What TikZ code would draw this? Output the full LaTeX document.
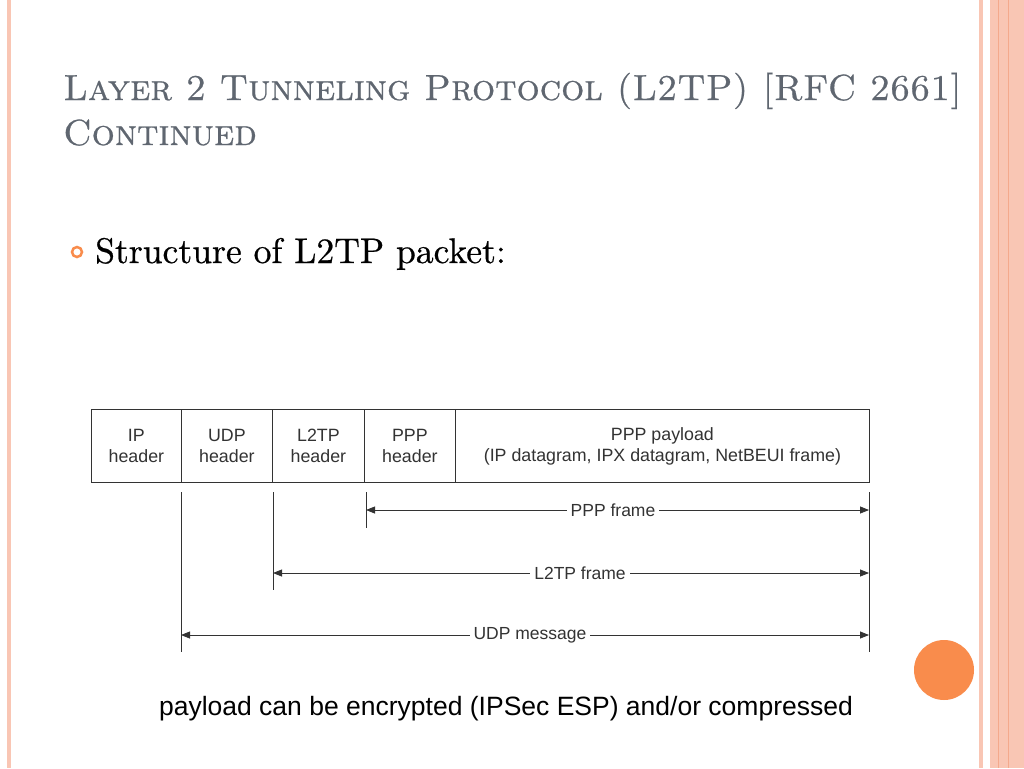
\documentclass[tikz,border=0pt]{standalone}
\usepackage{fontspec}
\newfontfamily\arial{Liberation Sans}
\newfontfamily\lmten{lmroman10-regular}[Extension=.otf, SmallCapsFont=lmromancaps10-regular, FakeBold=0.6]
\usetikzlibrary{arrows.meta}
\definecolor{pinkA}{HTML}{F9C6B4}
\definecolor{pinkB}{HTML}{F4A98C}
\definecolor{orangeC}{HTML}{F98C4C}
\definecolor{titlegray}{HTML}{5F6670}
\tikzset{
  cell/.style={draw=black!80, line width=0.8pt, minimum height=73pt, inner sep=0pt, align=center, font=\arial\fontsize{17.8}{21}\selectfont, text=black!80, anchor=north west},
  tick/.style={draw=black!80, line width=0.8pt},
  dim/.style={draw=black!80, line width=0.8pt, {Triangle[length=9pt,width=7pt]}-{Triangle[length=9pt,width=7pt]}},
  dimlabel/.style={fill=white, inner sep=4pt, font=\arial\fontsize{17.5}{20}\selectfont, text=black!80},
  ttl/.style={anchor=base west, inner sep=0pt, text=titlegray, font=\lmten\fontsize{36.3}{40}\selectfont}
}
\begin{document}
\begin{tikzpicture}[x=1pt,y=-1pt]
\useasboundingbox (0,0) rectangle (1024,768);
\fill[white] (0,0) rectangle (1024,768);
% borders
\fill[pinkA] (7,0) rectangle (11,768);
\fill[pinkA] (979,0) rectangle (983,768);
\fill[pinkA] (990,0) rectangle (1024,768);
\draw[pinkB, line width=1pt] (998,0) -- (998,768);
\draw[pinkB, line width=1pt] (1008,0) -- (1008,768);
% title
\node[ttl] (t1) at (63,100) {\textsc{Layer 2 Tunneling Protocol (L2TP) [RFC 2661]}};
\node[ttl] (t2) at (63,145) {\textsc{Continued}};
% bullet
\draw[orangeC, line width=2.5pt] (77,252) circle (5);
\node[anchor=base west, inner sep=0pt, font=\lmten\fontsize{35.6}{40}\selectfont] (b1) at (95,263) {Structure of L2TP packet:};
% cells
\node[cell, minimum width=90pt] (c1) at (91,409) {IP\\header};
\node[cell, minimum width=91pt] (c2) at (181,409) {UDP\\header};
\node[cell, minimum width=92pt] (c3) at (272,409) {L2TP\\header};
\node[cell, minimum width=91pt] (c4) at (364,409) {PPP\\header};
\node[cell, minimum width=414pt] (c5) at (455,409) {PPP payload\\(IP datagram, IPX datagram, NetBEUI frame)};
% ticks
\coordinate (u1) at (181,492); \coordinate (u2) at (181,652);
\coordinate (l1) at (273,492); \coordinate (l2) at (273,590);
\coordinate (p1) at (366,492); \coordinate (p2) at (366,528);
\coordinate (r1) at (869,492); \coordinate (r2) at (869,652);
\draw[tick] (u1) -- (u2);
\draw[tick] (l1) -- (l2);
\draw[tick] (p1) -- (p2);
\draw[tick] (r1) -- (r2);
% dims
\coordinate (pa) at (366,510); \coordinate (pb) at (869,510);
\coordinate (la) at (273,573); \coordinate (lb) at (869,573);
\coordinate (ua) at (181,635); \coordinate (ub) at (869,635);
\draw[dim] (pa) -- (pb);
\draw[dim] (la) -- (lb);
\draw[dim] (ua) -- (ub);
\node[dimlabel] (pl) at (613,510) {PPP frame};
\node[dimlabel] (ll) at (580,573) {L2TP frame};
\node[dimlabel] (ul) at (530,635) {UDP message};
% note
\node[font=\arial\fontsize{26.5}{30}\selectfont, inner sep=0pt] (note) at (506,709) {payload can be encrypted (IPSec ESP) and/or compressed};
% orange circle
\fill[orangeC] (944,670) circle (30);
\end{tikzpicture}
\end{document}
